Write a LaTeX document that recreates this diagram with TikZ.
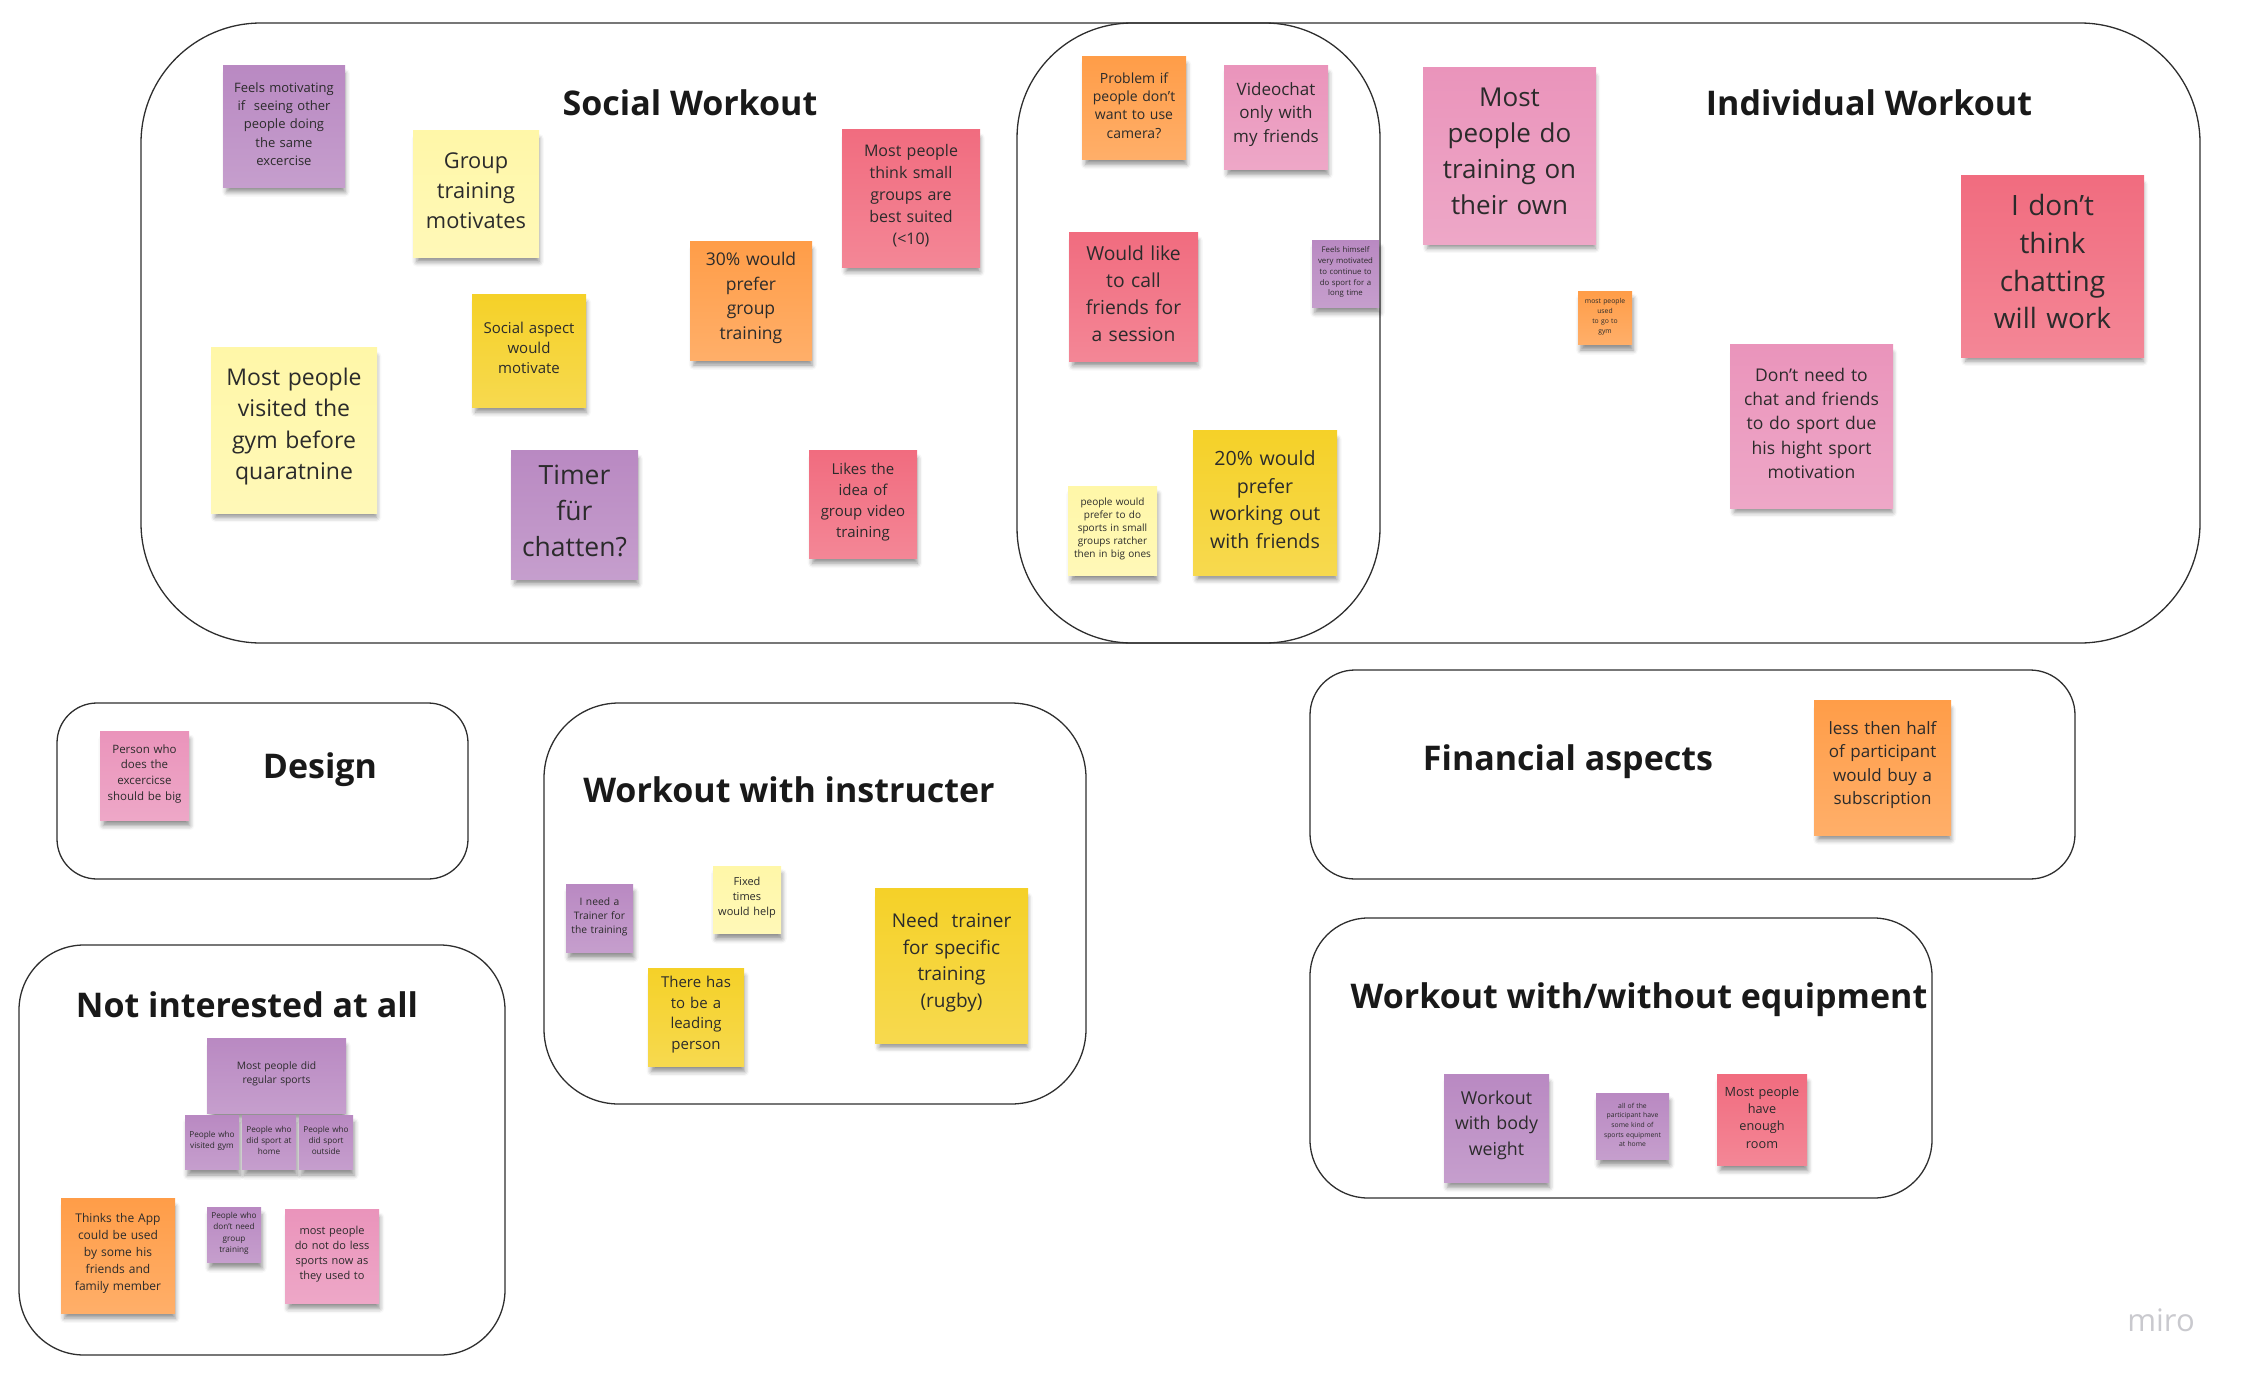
\documentclass[tikz,border=0pt]{standalone}
\usepackage{fontspec}
\setmainfont{Open Sans}
\usetikzlibrary{shadows.blur}

% sticky-note palette
\definecolor{nYellowL}{HTML}{FFF7A8}
\definecolor{nYellow}{HTML}{F5D128}
\definecolor{nOrange}{HTML}{FF9D48}
\definecolor{nRed}{HTML}{F16C7F}
\definecolor{nPink}{HTML}{EA94BB}
\definecolor{nViolet}{HTML}{B989C2}
\definecolor{inkText}{HTML}{2B2B2B}
\definecolor{frameLine}{HTML}{2E2E2E}
\definecolor{logoGrey}{HTML}{C9C9CE}

\tikzset{
  notebox/.style={rectangle, inner sep=0pt, draw=none,
    top color=#1, bottom color=#1!82!white,
    blur shadow={shadow xshift=2pt, shadow yshift=-7pt, shadow scale=0.97,
                 shadow blur radius=5pt, shadow opacity=45}},
  notetext/.style={inner sep=0pt, align=center, text=inkText},
  frame/.style={rectangle, draw=frameLine, line width=1.3pt, fill=none, inner sep=0pt},
  heading/.style={font=\fontsize{34}{40}\selectfont\bfseries, text=black!90, inner sep=0pt},
}

% \sticky{name}{colour}{x1}{y1}{x2}{y2}{size}{leading}{text}
\newcommand{\sticky}[9]{%
  \node[notebox=#2, minimum width={#5-#3}, minimum height={#6-#4},
        label={[notetext, text width={#5-#3}, font=\fontsize{#7}{#8}\selectfont,
                yshift={0.15*#7}]center:{#9}}]
    (#1) at ({(#3+#5)/2},{(#4+#6)/2}) {};}

% \groupframe{name}{x1}{y1}{x2}{y2}{radius}
\newcommand{\groupframe}[6]{%
  \node[frame, minimum width={#4-#2}, minimum height={#5-#3}, rounded corners=#6pt]
    (#1) at ({(#2+#4)/2},{(#3+#5)/2}) {};}

\begin{document}
\begin{tikzpicture}[x=1pt,y=-1pt]
\useasboundingbox (0,0) rectangle (2249,1384);

% ---------- group frames ----------
\groupframe{fSocial}{141}{23}{2200}{643}{120}
\groupframe{fBoth}{1017}{23}{1380}{643}{115}
\groupframe{fDesign}{57}{703}{468}{879}{40}
\groupframe{fInstr}{544}{703}{1086}{1104}{75}
\groupframe{fNot}{19}{945}{505}{1355}{65}
\groupframe{fMoney}{1310}{670}{2075}{879}{45}
\groupframe{fEquip}{1310}{918}{1932}{1198}{58}

% ---------- headings ----------
\node[heading] (hSocial) at (690,103) {Social Workout};
\node[heading] (hIndiv) at (1869,103) {Individual Workout};
\node[heading] (hDesign) at (320,770) {Design};
\node[heading] (hInstr) at (789,790) {Workout with instructer};
\node[heading] (hNot) at (247,1005) {Not interested at all};
\node[heading] (hMoney) at (1568,762) {Financial aspects};
\node[heading] (hEquip) at (1639,1000) {Workout with/without equipment};

% ---------- social workout ----------
\sticky{sFeels}{nViolet}{223}{65}{345}{187}{13}{18.3}{Feels motivating\\if\ \ seeing other\\people doing\\the same\\excercise}
\sticky{sGroup}{nYellowL}{413}{130}{539}{257}{21.8}{30}{Group\\training\\motivates}
\sticky{sSmall}{nRed}{842}{129}{980}{267}{16}{21.8}{Most people\\think small\\groups are\\best suited\\(<10)}
\sticky{sThirty}{nOrange}{690}{241}{812}{360}{17.5}{24.8}{30\% would\\prefer\\group\\training}
\sticky{sAspect}{nYellow}{472}{294}{586}{407}{15}{20}{Social aspect\\would\\motivate}
\sticky{sGym}{nYellowL}{211}{347}{377}{513}{23}{31.5}{Most people\\visited the\\gym before\\quaratnine}
\sticky{sTimer}{nViolet}{511}{450}{638}{579}{26.5}{36}{Timer\\für\\chatten?}
\sticky{sLikes}{nRed}{809}{450}{917}{558}{15}{21}{Likes the\\idea of\\group video\\training}

% ---------- overlap of both ----------
\sticky{bCamera}{nOrange}{1082}{56}{1186}{159}{14}{18.3}{Problem if\\people don't\\want to use\\camera?}
\sticky{bVideo}{nPink}{1224}{65}{1328}{169}{17}{23.5}{Videochat\\only with\\my friends}
\sticky{bCall}{nRed}{1069}{232}{1198}{361}{19.3}{27}{Would like\\to call\\friends for\\a session}
\sticky{bHimself}{nViolet}{1312}{240}{1379}{307}{7.8}{10.7}{Feels himself\\very motivated\\to continue to\\do sport for a\\long time}
\sticky{bSmallGrp}{nYellowL}{1068}{486}{1157}{575}{10}{13}{people would\\prefer to do\\sports in small\\groups ratcher\\then in big ones}
\sticky{bTwenty}{nYellow}{1193}{430}{1337}{575}{19.6}{27.5}{20\% would\\prefer\\working out\\with friends}

% ---------- individual workout ----------
\sticky{iOwn}{nPink}{1423}{67}{1596}{244}{26}{36}{Most\\people do\\training on\\their own}
\sticky{iUsedGym}{nOrange}{1578}{291}{1632}{344}{6.8}{10}{most people\\used\\to go to\\gym}
\sticky{iNoChat}{nPink}{1730}{344}{1893}{508}{17.5}{24.4}{Don't need to\\chat and friends\\to do sport due\\his hight sport\\motivation}
\sticky{iDont}{nRed}{1961}{175}{2144}{357}{28}{37.7}{I don't\\think\\chatting\\will work}

% ---------- design ----------
\sticky{dBig}{nPink}{100}{731}{189}{820}{11.5}{15.7}{Person who\\does the\\excercicse\\should be big}

% ---------- workout with instructer ----------
\sticky{wTrainer}{nViolet}{566}{884}{633}{952}{10.3}{14}{I need a\\Trainer for\\the training}
\sticky{wFixed}{nYellowL}{713}{866}{781}{933}{11}{15}{Fixed\\times\\would help}
\sticky{wLeading}{nYellow}{648}{968}{744}{1066}{15}{20.6}{There has\\to be a\\leading\\person}
\sticky{wRugby}{nYellow}{875}{888}{1028}{1043}{19}{26.8}{Need\ \ trainer\\for specific\\training\\(rugby)}

% ---------- financial aspects ----------
\sticky{mHalf}{nOrange}{1814}{700}{1951}{835}{17}{23.4}{less then half\\of participant\\would buy a\\subscription}

% ---------- equipment ----------
\sticky{eBody}{nViolet}{1444}{1074}{1549}{1182}{17.8}{25.8}{Workout\\with body\\weight}
\sticky{eHome}{nViolet}{1596}{1093}{1669}{1159}{6.8}{9.7}{all of the\\participant have\\some kind of\\sports equipment\\at home}
\sticky{eRoom}{nRed}{1717}{1074}{1807}{1165}{12.7}{17.2}{Most people\\have\\enough\\room}

% ---------- not interested at all ----------
\sticky{nRegular}{nViolet}{207}{1038}{346}{1113}{10.3}{14}{Most people did\\regular sports}
\sticky{nVisited}{nViolet}{185}{1115}{239}{1169}{8.2}{11}{People who\\visited gym}
\sticky{nAtHome}{nViolet}{242}{1115}{296}{1169}{8.2}{11}{People who\\did sport at\\home}
\sticky{nOutside}{nViolet}{299}{1115}{353}{1169}{8.2}{11}{People who\\did sport\\outside}
\sticky{nNoGroup}{nViolet}{207}{1207}{261}{1262}{8.2}{11.3}{People who\\don't need\\group\\training}
\sticky{nLess}{nPink}{285}{1209}{379}{1303}{11}{15}{most people\\do not do less\\sports now as\\they used to}
\sticky{nApp}{nOrange}{61}{1198}{175}{1313}{12}{17}{Thinks the App\\could be used\\by some his\\friends and\\family member}

% ---------- logo ----------
\node[font=\fontsize{31}{35}\selectfont, text=logoGrey, inner sep=0pt] (logo) at (2161,1320) {miro};
\end{tikzpicture}
\end{document}
